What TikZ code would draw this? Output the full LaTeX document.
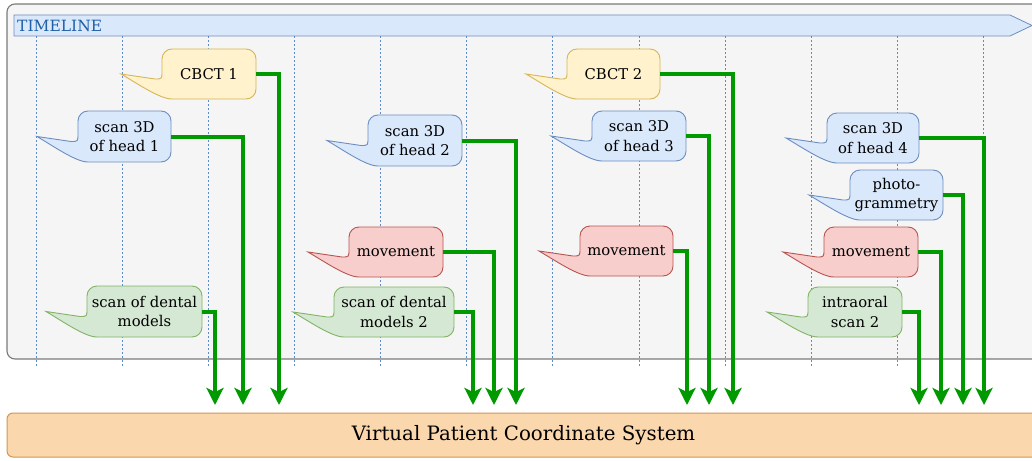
\documentclass[tikz,border=0pt]{standalone}
\usepackage{fontspec}
\setmainfont{DejaVu Serif}
\usetikzlibrary{arrows.meta}
\definecolor{panelfill}{HTML}{F5F5F5}
\definecolor{panelline}{HTML}{7A7A7A}
\definecolor{bluefill}{HTML}{DAE8FC}
\definecolor{blueline}{HTML}{6C8EBF}
\definecolor{yellowfill}{HTML}{FFF2CC}
\definecolor{yellowline}{HTML}{D6B656}
\definecolor{redfill}{HTML}{F8CECC}
\definecolor{redline}{HTML}{B85450}
\definecolor{greenfill}{HTML}{D5E8D4}
\definecolor{greenline}{HTML}{82B366}
\definecolor{orangefill}{HTML}{FAD7AC}
\definecolor{orangeline}{HTML}{D39550}
\definecolor{connline}{HTML}{009900}
\definecolor{tltext}{HTML}{1F5FA6}
\definecolor{dotline}{HTML}{5B8BC9}
\tikzset{
  panel/.style={draw=panelline, fill=panelfill, line width=1.1pt, rounded corners=8pt},
  tlshape/.style={draw=blueline, fill=bluefill, line width=0.8pt},
  vline/.style={draw=dotline, line width=0.7pt, dash pattern=on 2pt off 2pt},
  callbody/.style={inner sep=0pt, align=center, font=\fontsize{14.8}{19.5}\selectfont},
  conn/.style={draw=connline, line width=4pt, -{Stealth[length=17pt,width=17pt,inset=4pt]}},
  vpbox/.style={draw=orangeline, fill=orangefill, line width=1pt, rounded corners=6pt, inner sep=0pt, font=\fontsize{19.8}{23}\selectfont}
}
\newcommand\callout[8]{%
  \pgfmathsetmacro\cW{#6-#4}%
  \pgfmathsetmacro\cH{#7-#5}%
  \pgfmathsetmacro\cM{(#5+#7)/2}%
  \draw[fill=#2, draw=#3, line width=0.9pt] (#4-41,\cM) -- (#4-7,\cM+5) .. controls (#4,\cM+5) .. (#4,\cM-3)
     [rounded corners=10pt] -- (#4,#5) -- (#6,#5) -- (#6,#7) -- (#4+20,#7) [sharp corners]
     .. controls (#4-2,#7) and (#4-24,\cM+10) .. (#4-41,\cM) -- cycle;
  \node[callbody, minimum width=\cW pt, minimum height=\cH pt] (#1) at ({(#4+#6)/2},\cM) {#8};
}
\begin{document}
\begin{tikzpicture}[x=1pt,y=-1pt]
\useasboundingbox (0,0) rectangle (1032,460);
% panel
\draw[panel] (7,4) rectangle (1045,359);
% timeline arrow
\draw[tlshape] (14,15) -- (1010,15) -- (1032,25.5) -- (1010,36) -- (14,36) -- cycle;
\node[anchor=west, text=tltext, inner sep=0pt, font=\fontsize{15.5}{17}\selectfont] (tl) at (17,26) {TIMELINE};
% dotted time lines
\foreach \x in {36,122,208,294,380,466,552,639,725,811,897,983}
  \draw[vline] (\x,36) -- (\x,366);
% bottom box
\node[vpbox, minimum width=1033pt, minimum height=44pt] (vp) at (523.5,435) {Virtual Patient Coordinate System};
% callouts
\callout{cb1}{yellowfill}{yellowline}{162}{49}{256}{99}{CBCT 1}
\callout{h1}{bluefill}{blueline}{78}{111}{171}{162}{scan 3D\\of head 1}
\callout{d1}{greenfill}{greenline}{87}{286}{202}{337}{scan of dental\\models}
\callout{h2}{bluefill}{blueline}{368}{115}{462}{166}{scan 3D\\of head 2}
\callout{m1}{redfill}{redline}{349}{227}{443}{277}{movement}
\callout{d2}{greenfill}{greenline}{334}{287}{454}{337}{scan of dental\\models 2}
\callout{cb2}{yellowfill}{yellowline}{567}{49}{660}{99}{CBCT 2}
\callout{h3}{bluefill}{blueline}{592}{111}{686}{161}{scan 3D\\of head 3}
\callout{m2}{redfill}{redline}{580}{226}{673}{276}{movement}
\callout{h4}{bluefill}{blueline}{827}{113}{919}{163}{scan 3D\\of head 4}
\callout{pg}{bluefill}{blueline}{850}{170}{943}{220}{photo-\\grammetry}
\callout{m3}{redfill}{redline}{824}{227}{918}{277}{movement}
\callout{io}{greenfill}{greenline}{808}{287}{902}{337}{intraoral\\scan 2}
% arrow end points
\foreach \n/\x in {ecb1/279,eh1/243,ed1/215,eh2/516,em1/494,ed2/473,ecb2/733,eh3/709,em2/687,eh4/984,epg/963,em3/941,eio/919}
  \coordinate (\n) at (\x,405);
% connectors
\foreach \a in {cb1,h1,d1,h2,m1,d2,cb2,h3,m2,h4,pg,m3,io}
  \draw[conn] (\a.east) -| (e\a);
\end{tikzpicture}
\end{document}
